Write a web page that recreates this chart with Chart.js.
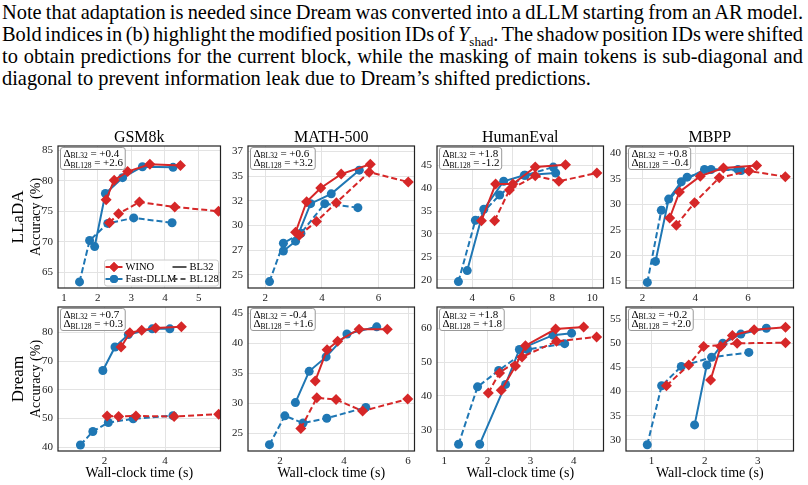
<!DOCTYPE html>
<html>
<head>
<meta charset="utf-8">
<script src="https://cdn.jsdelivr.net/npm/chart.js@4.4.1/dist/chart.umd.min.js"></script>
<style>
  body { margin: 0; background: #fff; width: 808px; height: 485px; overflow: hidden; position: relative; }
  .para { position: absolute; left: 2px; top: 1px; width: 801px; font-family: "Liberation Serif", serif; font-size: 20.4px; line-height: 22px; color: #000; }
  .para div { white-space: nowrap; }
  .para sub { font-size: 13px; line-height: 0; }
  canvas { position: absolute; }
</style>
</head>
<body>
<div class="para">
  <div class="j"><span>Note that adaptation is needed since Dream was converted into a dLLM starting from an AR model.</span></div>
  <div class="j"><span>Bold indices in (b) highlight the modified position IDs of <i>Y</i><sub>shad</sub>. The shadow position IDs were shifted</span></div>
  <div class="j"><span>to obtain predictions for the current block, while the masking of main tokens is sub-diagonal and</span></div>
  <div><span>diagonal to prevent information leak due to Dream’s shifted predictions.</span></div>
</div>
<script>
// benchmarks (columns) and models (rows)
const benchmarks = ['GSM8k', 'MATH-500', 'HumanEval', 'MBPP'];
const models = ['LLaDA', 'Dream'];

// [wall-clock time (s), accuracy (%)] -- LLaDA
const lladaGsmWino32 = [[2.25, 76.9], [2.49, 80.1], [2.89, 81.5], [3.55, 82.7], [4.46, 82.5]];
const lladaGsmWino128 = [[2.35, 73.1], [2.62, 74.6], [3.24, 76.5], [4.29, 75.7], [5.59, 75.0]];
const lladaGsmFast32 = [[1.91, 69.2], [2.23, 77.9], [2.74, 80.5], [3.33, 82.3], [4.24, 82.2]];
const lladaGsmFast128 = [[1.46, 63.4], [1.76, 70.2], [2.30, 73.0], [3.07, 73.9], [4.21, 73.1]];

const lladaMathWino32 = [[3.07, 29.3], [3.46, 32.4], [3.96, 33.8], [4.68, 35.2], [5.71, 36.2]];
const lladaMathWino128 = [[3.2, 29.0], [3.81, 30.4], [4.51, 32.3], [5.67, 35.4], [7.05, 34.4]];
const lladaMathFast32 = [[2.64, 27.4], [3.07, 28.4], [3.6, 32.2], [4.33, 33.2], [5.32, 35.6]];
const lladaMathFast128 = [[2.15, 24.3], [2.64, 28.2], [3.26, 29.2], [4.1, 32.2], [5.27, 31.8]];

const lladaHeWino32 = [[4.46, 32.9], [5.17, 40.9], [6.03, 40.9], [7.15, 44.6], [8.66, 45.1]];
const lladaHeWino128 = [[5.12, 32.9], [5.86, 39.6], [7.15, 42.7], [8.33, 41.5], [10.23, 43.3]];
const lladaHeFast32 = [[3.75, 22.0], [4.58, 35.4], [5.57, 41.5], [6.6, 42.8], [8.17, 43.3]];
const lladaHeFast128 = [[3.31, 19.6], [4.16, 33.0], [5.37, 38.5], [6.65, 42.8], [8.05, 44.6]];

const lladaMbppWino32 = [[3.03, 27.3], [3.4, 32.4], [4.19, 35.5], [5.07, 37.1], [6.33, 37.6]];
const lladaMbppWino128 = [[3.28, 25.9], [3.97, 30.3], [4.91, 35.2], [6.04, 36.5], [7.42, 35.4]];
const lladaMbppFast32 = [[2.49, 18.8], [2.99, 31.0], [3.47, 34.4], [4.35, 36.8], [5.62, 36.8]];
const lladaMbppFast128 = [[2.18, 14.7], [2.71, 28.8], [3.69, 35.3], [4.6, 36.8], [5.74, 36.6]];

// Dream
const dreamGsmWino32 = [[2.55, 74.9], [2.84, 79.8], [3.23, 80.7], [3.69, 81.5], [4.54, 81.9]];
const dreamGsmWino128 = [[2.09, 50.9], [2.47, 50.7], [3.04, 50.9], [4.3, 50.7], [5.77, 51.5]];
const dreamGsmFast32 = [[1.95, 66.7], [2.35, 74.9], [2.79, 79.2], [3.58, 81.2], [4.16, 81.2]];
const dreamGsmFast128 = [[1.21, 40.8], [1.62, 45.5], [2.13, 48.6], [2.95, 49.9], [4.26, 51.0]];

const dreamMathWino32 = [[3.1, 33.7], [3.47, 38.9], [3.8, 40.3], [4.47, 42.3], [5.35, 42.3]];
const dreamMathWino128 = [[2.65, 25.8], [3.15, 30.9], [3.75, 30.6], [4.58, 28.7], [5.99, 30.7]];
const dreamMathFast32 = [[2.48, 30.1], [2.91, 35.3], [3.44, 37.7], [4.09, 41.5], [5.02, 42.7]];
const dreamMathFast128 = [[1.67, 23.1], [2.15, 27.9], [2.72, 26.7], [3.46, 27.5], [4.68, 29.3]];

const dreamHeWino32 = [[2.32, 41.7], [2.65, 48.8], [2.88, 54.8], [3.58, 59.7], [4.23, 60.3]];
const dreamHeWino128 = [[2.02, 40.9], [2.28, 46.8], [2.8, 51.5], [3.6, 56.1], [4.53, 57.4]];
const dreamHeFast32 = [[1.82, 25.8], [2.42, 43.4], [2.74, 53.7], [3.52, 57.9], [3.95, 58.5]];
const dreamHeFast128 = [[1.33, 25.8], [1.77, 42.7], [2.26, 47.5], [2.93, 53.7], [3.79, 55.4]];

const dreamMbppWino32 = [[2.11, 42.4], [2.3, 49.3], [2.52, 51.6], [2.93, 52.8], [3.52, 53.3]];
const dreamMbppWino128 = [[1.28, 41.2], [1.7, 45.5], [1.98, 49.3], [2.61, 50.0], [3.52, 50.1]];
const dreamMbppFast32 = [[1.81, 33.1], [2.04, 45.5], [2.34, 50.0], [2.68, 51.9], [3.16, 53.1]];
const dreamMbppFast128 = [[0.92, 29.0], [1.19, 41.2], [1.56, 45.2], [2.13, 47.1], [2.83, 48.1]];

// delta annotations
const lladaDelta32 = ['+0.4', '+0.6', '+1.8', '+0.8'];
const lladaDelta128 = ['+2.6', '+3.2', '-1.2', '-0.4'];
const dreamDelta32 = ['+0.7', '-0.4', '+1.8', '+0.2'];
const dreamDelta128 = ['+0.3', '+1.6', '+1.8', '+2.0'];

// tick values
const lladaXTicks = [[1, 2, 3, 4, 5], [2, 4, 6], [4, 6, 8, 10], [2, 4, 6]];
const lladaYTicks = [[65, 70, 75, 80, 85], [25, 27.5, 30, 32.5, 35, 37.5], [20, 25, 30, 35, 40, 45], [15, 20, 25, 30, 35, 40]];
const dreamXTicks = [[2, 4], [2, 4, 6], [1, 2, 3, 4], [1, 2, 3]];
const dreamYTicks = [[40, 50, 60, 70, 80], [25, 30, 35, 40, 45], [30, 40, 50, 60], [30, 35, 40, 45, 50, 55]];

const RED = '#d62728';
const BLUE = '#1f77b4';
const FONT = '"Liberation Serif", serif';

const colLeft = [58, 248, 437, 626];
const colRight = [222, 416, 605, 795];
const rowTop = [146, 307];
const rowBottom = [288, 451];

// axis ranges per panel
const lladaRange = [[0.82, 5.65, 62.4, 85.7], [1.39, 7.27, 23.65, 38.05], [2.24, 10.56, 18.2, 49.2], [1.37, 7.73, 13.6, 41.4]];
const dreamRange = [[0.47, 5.83, 38.7, 88.8], [1.0, 6.2, 22.05, 46.0], [0.83, 4.69, 23.8, 66.2], [0.52, 3.67, 27.7, 57.5]];

const series = [
  [[lladaGsmWino32, lladaGsmWino128, lladaGsmFast32, lladaGsmFast128],
   [lladaMathWino32, lladaMathWino128, lladaMathFast32, lladaMathFast128],
   [lladaHeWino32, lladaHeWino128, lladaHeFast32, lladaHeFast128],
   [lladaMbppWino32, lladaMbppWino128, lladaMbppFast32, lladaMbppFast128]],
  [[dreamGsmWino32, dreamGsmWino128, dreamGsmFast32, dreamGsmFast128],
   [dreamMathWino32, dreamMathWino128, dreamMathFast32, dreamMathFast128],
   [dreamHeWino32, dreamHeWino128, dreamHeFast32, dreamHeFast128],
   [dreamMbppWino32, dreamMbppWino128, dreamMbppFast32, dreamMbppFast128]]
];

// justify the paragraph lines by spreading the spaces
document.querySelectorAll('.para .j').forEach(div => {
  const span = div.querySelector('span');
  const w = span.getBoundingClientRect().width;
  const spaces = (span.textContent.match(/ /g) || []).length;
  div.style.wordSpacing = ((801 - w) / spaces) + 'px';
});

function ds(points, color, dashed, marker) {
  return {
    data: points.map(p => ({ x: p[0], y: p[1] })),
    borderColor: color,
    backgroundColor: color,
    borderWidth: 2,
    borderDash: dashed ? [6, 3] : [],
    pointStyle: marker,
    pointRadius: marker === 'rectRot' ? 5.5 : 4.5,
    pointBorderWidth: 0,
    showLine: true,
    tension: 0
  };
}

function deltaLine(ctx, x, y, sub, val) {
  ctx.font = '11px ' + FONT;
  ctx.fillText('\u0394', x, y);
  x += ctx.measureText('\u0394').width;
  ctx.font = '7.5px ' + FONT;
  ctx.fillText(sub, x, y + 2.5);
  x += ctx.measureText(sub).width;
  ctx.font = '11px ' + FONT;
  ctx.fillText(' = ' + val, x, y);
  return x + ctx.measureText(' = ' + val).width;
}

const deco = {
  id: 'deco',
  afterDraw(chart, args, o) {
    const ctx = chart.ctx, a = chart.chartArea;
    ctx.save();
    // frame
    ctx.strokeStyle = '#222';
    ctx.lineWidth = 1.2;
    ctx.setLineDash([]);
    ctx.strokeRect(a.left, a.top, a.right - a.left, a.bottom - a.top);

    ctx.fillStyle = '#000';
    ctx.textBaseline = 'alphabetic';
    if (o.row === 0) {
      ctx.font = '16px ' + FONT;
      ctx.textAlign = 'center';
      ctx.fillText(benchmarks[o.col], (a.left + a.right) / 2, a.top - 4);
    }
    if (o.col === 0) {
      const cy = (a.top + a.bottom) / 2;
      ctx.save();
      ctx.translate(19, cy);
      ctx.rotate(-Math.PI / 2);
      ctx.textAlign = 'center';
      ctx.textBaseline = 'middle';
      ctx.font = '17px ' + FONT;
      ctx.fillText(models[o.row], 0, 0);
      ctx.restore();
      ctx.save();
      ctx.translate(36, cy);
      ctx.rotate(-Math.PI / 2);
      ctx.textAlign = 'center';
      ctx.textBaseline = 'middle';
      ctx.font = '14px ' + FONT;
      ctx.fillText('Accuracy (%)', 0, 0);
      ctx.restore();
    }
    if (o.row === 1) {
      ctx.font = '14px ' + FONT;
      ctx.textAlign = 'center';
      ctx.textBaseline = 'middle';
      ctx.fillText('Wall-clock time (s)', (a.left + a.right) / 2, a.bottom + 22);
    }

    // delta box
    ctx.textAlign = 'left';
    ctx.textBaseline = 'middle';
    const bx = a.left + 2.5, by = a.top + 1.5;
    ctx.font = '11px ' + FONT;
    const w = ctx.measureText('\u0394 = ' + o.d128).width + 20;
    ctx.fillStyle = 'rgba(255,255,255,0.85)';
    ctx.strokeStyle = '#999';
    ctx.lineWidth = 1;
    ctx.beginPath();
    ctx.roundRect(bx, by, w + 6, 22, 2.5);
    ctx.fill();
    ctx.stroke();
    ctx.fillStyle = '#000';
    deltaLine(ctx, bx + 3, by + 6.5, 'BL32', o.d32);
    deltaLine(ctx, bx + 3, by + 16, 'BL128', o.d128);

    // legend
    if (o.legend) {
      const r = a.right - 1, b = a.bottom - 1;
      ctx.fillStyle = 'rgba(255,255,255,0.85)';
      ctx.strokeStyle = '#ccc';
      ctx.beginPath();
      ctx.roundRect(r - 115, b - 27, 114, 26, 2.5);
      ctx.fill();
      ctx.stroke();
      const rows = [b - 20, b - 8];
      const items = [[RED, 'rectRot', 'WINO'], [BLUE, 'circle', 'Fast-DLLM']];
      items.forEach((it, i) => {
        const y = rows[i];
        ctx.strokeStyle = it[0];
        ctx.lineWidth = 2;
        ctx.beginPath();
        ctx.moveTo(r - 114, y);
        ctx.lineTo(r - 97, y);
        ctx.stroke();
        ctx.fillStyle = it[0];
        Chart.helpers.drawPoint(ctx, { pointStyle: it[1], radius: it[1] === 'rectRot' ? 5 : 4, borderWidth: 0 }, r - 105.5, y);
        ctx.fill();
        ctx.fillStyle = '#000';
        ctx.font = '10.5px ' + FONT;
        ctx.fillText(it[2], r - 94, y);
      });
      [['BL32', []], ['BL128', [5, 3]]].forEach((it, i) => {
        const y = rows[i];
        ctx.strokeStyle = '#555';
        ctx.lineWidth = 2;
        ctx.setLineDash(it[1]);
        ctx.beginPath();
        ctx.moveTo(r - 47, y);
        ctx.lineTo(r - 33, y);
        ctx.stroke();
        ctx.setLineDash([]);
        ctx.fillText(it[0], r - 30, y);
      });
    }
    ctx.restore();
  }
};

function makePanel(row, col) {
  const L = col === 0 ? 58 : 36, R = 4, T = 24, B = row === 0 ? 18 : 34;
  const pw = colRight[col] - colLeft[col], ph = rowBottom[row] - rowTop[row];
  const cv = document.createElement('canvas');
  cv.width = L + pw + R;
  cv.height = T + ph + B;
  cv.style.width = cv.width + 'px';
  cv.style.height = cv.height + 'px';
  cv.style.left = (colLeft[col] - L) + 'px';
  cv.style.top = (rowTop[row] - T) + 'px';
  document.body.appendChild(cv);

  const s = series[row][col];
  const rng = row === 0 ? lladaRange[col] : dreamRange[col];
  const xt = row === 0 ? lladaXTicks[col] : dreamXTicks[col];
  const yt = row === 0 ? lladaYTicks[col] : dreamYTicks[col];
  const tickFont = { family: FONT, size: 11 };

  new Chart(cv, {
    type: 'scatter',
    data: {
      datasets: [
        ds(s[0], RED, false, 'rectRot'),
        ds(s[1], RED, true, 'rectRot'),
        ds(s[2], BLUE, false, 'circle'),
        ds(s[3], BLUE, true, 'circle')
      ]
    },
    options: {
      responsive: false,
      animation: false,
      devicePixelRatio: 1,
      events: [],
      layout: { padding: { top: T, right: R, left: 0, bottom: 0 } },
      plugins: {
        legend: { display: false },
        tooltip: { enabled: false },
        deco: {
          row: row, col: col, legend: row === 0 && col === 0,
          d32: row === 0 ? lladaDelta32[col] : dreamDelta32[col],
          d128: row === 0 ? lladaDelta128[col] : dreamDelta128[col]
        }
      },
      scales: {
        x: {
          type: 'linear',
          min: rng[0], max: rng[1],
          afterBuildTicks: sc => { sc.ticks = xt.map(v => ({ value: v })); },
          afterFit: sc => { sc.height = B; },
          grid: { color: '#e3e3e3', drawTicks: false },
          border: { display: false },
          ticks: { padding: 4, color: '#222', font: tickFont, autoSkip: false, maxRotation: 0 }
        },
        y: {
          type: 'linear',
          min: rng[2], max: rng[3],
          afterBuildTicks: sc => { sc.ticks = yt.map(v => ({ value: v })); },
          afterFit: sc => { sc.width = L; },
          grid: { color: '#e3e3e3', drawTicks: false },
          border: { display: false },
          ticks: { padding: 5, color: '#222', font: tickFont, autoSkip: false, callback: v => String(Math.trunc(v)) }
        }
      }
    },
    plugins: [deco]
  });
}

for (let r = 0; r < 2; r++) {
  for (let c = 0; c < 4; c++) makePanel(r, c);
}
</script>
</body>
</html>
